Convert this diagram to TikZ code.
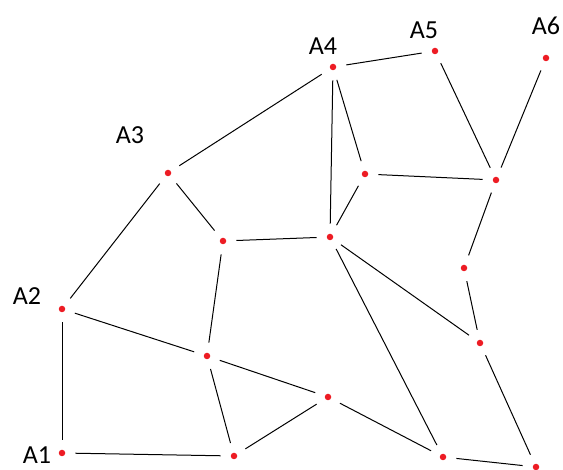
\documentclass[tikz,border=0pt]{standalone}
\usepackage{fontspec}
\setmainfont{Carlito}
\definecolor{dotred}{RGB}{237,28,36}
\begin{document}
\begin{tikzpicture}[x=1pt,y=-1pt,
  pt/.style={circle,fill=dotred,inner sep=0pt,minimum size=6.5pt},
  lbl/.style={font=\fontsize{26}{26}\selectfont,inner sep=0pt},
  edge/.style={draw=black,line width=1pt,shorten <=10pt,shorten >=10pt}]
\useasboundingbox (0,0) rectangle (563,470);
% vertices
\node[pt] (A1) at (62,453) {};
\node[pt] (A2) at (62,309) {};
\node[pt] (A3) at (168,173) {};
\node[pt] (A4) at (333,67) {};
\node[pt] (A5) at (435,51) {};
\node[pt] (A6) at (546,58) {};
\node[pt] (P1) at (223,241) {};
\node[pt] (P2) at (330,237) {};
\node[pt] (P3) at (365,174) {};
\node[pt] (P4) at (496,180) {};
\node[pt] (P5) at (464,268) {};
\node[pt] (P6) at (480,343) {};
\node[pt] (P7) at (207,356) {};
\node[pt] (P8) at (328,397) {};
\node[pt] (P9) at (234,456) {};
\node[pt] (P10) at (443,457) {};
\node[pt] (P11) at (536,467) {};
% labels
\node[lbl] (L1) at (37,455) {A1};
\node[lbl] (L2) at (27,296) {A2};
\node[lbl] (L3) at (130,135) {A3};
\node[lbl] (L4) at (323,46) {A4};
\node[lbl] (L5) at (424,30) {A5};
\node[lbl] (L6) at (546,26) {A6};
% edges
\foreach \a/\b in {A1/A2,A1/P9,A2/A3,A2/P7,A3/A4,A3/P1,A4/A5,A4/P2,A4/P3,
  A5/P4,A6/P4,P3/P4,P3/P2,P1/P2,P1/P7,P4/P5,P5/P6,P2/P6,P2/P10,
  P7/P8,P7/P9,P9/P8,P8/P10,P10/P11,P6/P11}
  \path[edge] (\a) -- (\b);
\end{tikzpicture}
\end{document}
